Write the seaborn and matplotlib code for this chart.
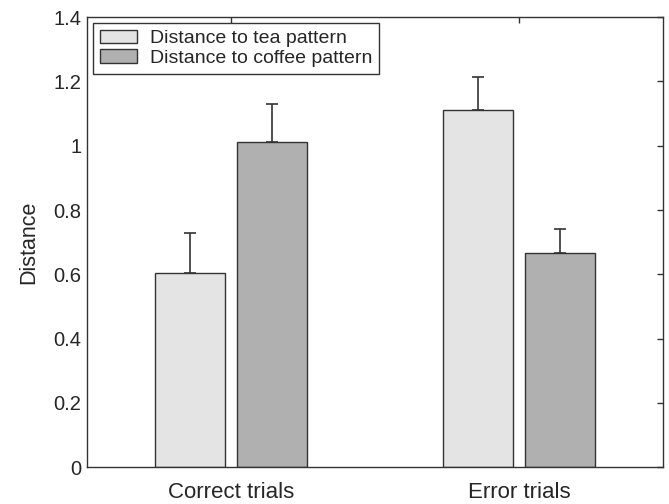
import matplotlib
matplotlib.use("Agg")
import matplotlib.pyplot as plt
import seaborn as sns
import pandas as pd
import numpy as np

# values
trials = ["Correct trials", "Error trials"]
patterns = ["Distance to tea pattern", "Distance to coffee pattern"]
tea_dist = [0.604, 1.111]
coffee_dist = [1.011, 0.666]
tea_err = [0.125, 0.102]
coffee_err = [0.118, 0.075]

df = pd.DataFrame({
    "trial": trials * 2,
    "pattern": [patterns[0]] * 2 + [patterns[1]] * 2,
    "dist": tea_dist + coffee_dist,
})

sns.set_style("white")
plt.rcParams["font.family"] = ["Liberation Sans", "DejaVu Sans"]

fig = plt.figure(figsize=(6.69, 5.04), dpi=100)
ax = fig.add_axes([0.130, 0.073, 0.861, 0.893])

sns.barplot(data=df, x="trial", y="dist", hue="pattern", hue_order=patterns,
            order=trials, palette=["#e4e4e4", "#b0b0b0"], saturation=1,
            width=0.57, gap=0.146, edgecolor="#333333", linewidth=1.0,
            errorbar=None, ax=ax)

# one-sided error bars (upwards only)
for cont, errs in zip(ax.containers, [tea_err, coffee_err]):
    xs = [b.get_x() + b.get_width() / 2 for b in cont]
    hs = [b.get_height() for b in cont]
    ax.errorbar(xs, hs, yerr=[np.zeros(len(errs)), errs], fmt="none",
                ecolor="#333333", elinewidth=1.2, capsize=4.3, capthick=1.2)

ax.set_xlim(-0.5, 1.5)
ax.set_ylim(0, 1.4)
yt = [0, 0.2, 0.4, 0.6, 0.8, 1.0, 1.2, 1.4]
ax.set_yticks(yt)
ax.set_yticklabels(["0", "0.2", "0.4", "0.6", "0.8", "1", "1.2", "1.4"])
ax.set_xlabel("")
ax.set_ylabel("Distance", fontsize=15.5, labelpad=10)
ax.tick_params(direction="in", top=True, right=True, length=4, width=1,
               color="#333333")
ax.tick_params(axis="y", labelsize=14.5, pad=4)
ax.tick_params(axis="x", labelsize=16, pad=11)
for s in ax.spines.values():
    s.set_visible(True)
    s.set_color("#333333")
    s.set_linewidth(1.0)

h, l = ax.get_legend_handles_labels()
ax.legend(h, l, loc="upper left", frameon=True, fancybox=False,
          edgecolor="#333333", framealpha=1, borderaxespad=0.3,
          fontsize=14, handlelength=1.9, handleheight=0.7,
          borderpad=0.35, labelspacing=0.1, handletextpad=0.7)

fig.savefig("out.png", dpi=100)
